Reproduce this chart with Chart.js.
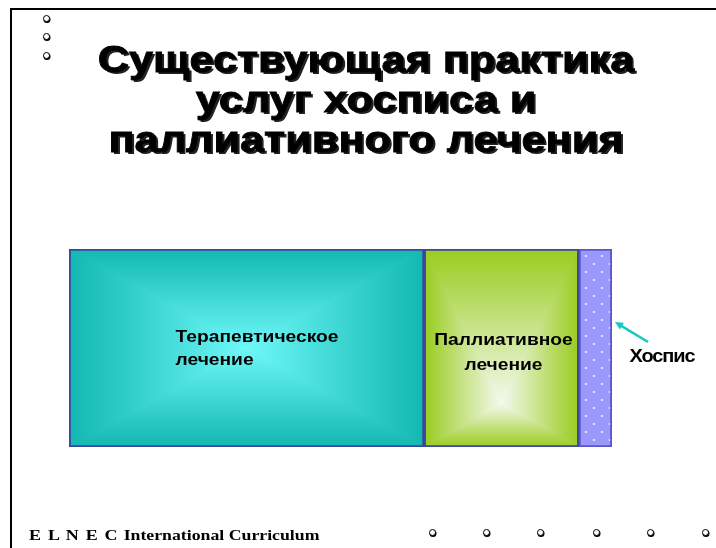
<!DOCTYPE html>
<html>
<head>
<meta charset="utf-8">
<script src="https://cdn.jsdelivr.net/npm/chart.js@4.4.1/dist/chart.umd.min.js"></script>
<style>
  html, body { margin: 0; padding: 0; background: #fff; }
  body { width: 716px; height: 548px; position: relative; overflow: hidden; font-family: "Liberation Sans", Arial, sans-serif; }
  #wrap { position: absolute; left: 0; top: 0; width: 716px; height: 548px; }
  .frame-top { position: absolute; left: 10px; top: 8px; width: 706px; height: 2px; background: #000; }
  .frame-left { position: absolute; left: 10px; top: 8px; width: 2px; height: 540px; background: #000; }
  .title { position: absolute; left: 16px; top: 40px; width: 700px; text-align: center;
    font: bold 36px "Liberation Sans", Arial, sans-serif; line-height: 40px; color: #000;
    transform: scaleX(1.2); transform-origin: 350px 0;
    -webkit-text-stroke: 0.8px #000; text-shadow: 2px 2px 0 #222; }
  .footer { position: absolute; left: 29px; top: 526px; font-family: "Liberation Serif", "Times New Roman", serif;
    font-weight: bold; color: #000; white-space: nowrap; transform: scaleX(1.2); transform-origin: 0 0; }
  .footer .big { font-size: 15px; letter-spacing: 1px; }
  .footer .small { font-size: 14.8px; }
  .bullet { position: absolute; width: 5px; height: 5px; border: 1.5px solid #000; border-radius: 50%;
    background: #fff; box-shadow: 0.5px 1px 0 #000; }
</style>
</head>
<body>
<div id="wrap"><canvas id="chart" width="716" height="548"></canvas></div>
<div class="frame-top"></div>
<div class="frame-left"></div>
<div class="title">Существующая практика<br>услуг хосписа и<br>паллиативного лечения</div>
<div class="footer"><span class="big">E L N E C</span> <span class="small">International Curriculum</span></div>
<div id="bullets"></div>
<script>
const categories = ['Практика'];
const segmentNames = ['Терапевтическое лечение', 'Паллиативное лечение', 'Хоспис'];
const segmentValues = [65.4, 28.5, 6.1];
const segmentLabelLines = [['Терапевтическое', 'лечение'], ['Паллиативное', 'лечение'], ['Хоспис']];

// slide decoration bullets
const bulletSpots = [[47, 19], [47, 37], [47, 56], [433, 533], [487, 533], [541, 533], [597, 533], [651, 533], [706, 533]];
const bulletBox = document.getElementById('bullets');
bulletSpots.forEach(([x, y]) => {
  const b = document.createElement('div');
  b.className = 'bullet';
  b.style.left = (x - 4) + 'px';
  b.style.top = (y - 4) + 'px';
  bulletBox.appendChild(b);
});

// "from center" gradient: four triangles with linear gradients
function rectGradient(ctx, x0, y0, x1, y1, cx, cy, edge, center) {
  const tris = [
    [[x0, y0], [x1, y0], [cx, y0]],
    [[x1, y0], [x1, y1], [x1, cy]],
    [[x1, y1], [x0, y1], [cx, y1]],
    [[x0, y1], [x0, y0], [x0, cy]]
  ];
  ctx.save();
  ctx.beginPath();
  ctx.rect(x0, y0, x1 - x0, y1 - y0);
  ctx.clip();
  tris.forEach(([a, b, e]) => {
    const g = ctx.createLinearGradient(e[0], e[1], cx, cy);
    g.addColorStop(0, edge);
    g.addColorStop(1, center);
    ctx.fillStyle = g;
    ctx.strokeStyle = g;
    ctx.lineWidth = 1.2;
    ctx.beginPath();
    ctx.moveTo(a[0], a[1]);
    ctx.lineTo(b[0], b[1]);
    ctx.lineTo(cx, cy);
    ctx.closePath();
    ctx.fill();
    ctx.stroke();
  });
  ctx.restore();
}

function stretchedText(ctx, text, x, y, sx) {
  ctx.save();
  ctx.translate(x, y);
  ctx.scale(sx, 1);
  ctx.fillText(text, 0, 0);
  ctx.restore();
}

const fillPlugin = {
  id: 'slideFills',
  beforeDatasetsDraw(chart) {
    const ctx = chart.ctx;
    ctx.save();
    chart.data.datasets.forEach((ds, i) => {
      const el = chart.getDatasetMeta(i).data[0];
      const x0 = Math.min(el.base, el.x), x1 = Math.max(el.base, el.x);
      const y0 = el.y - el.height / 2, y1 = el.y + el.height / 2;
      if (i === 0) {
        rectGradient(ctx, x0, y0, x1, y1, x0 + (x1 - x0) * 0.5, y0 + (y1 - y0) * 0.5, '#12b8b1', '#6ef8f8');
      } else if (i === 1) {
        rectGradient(ctx, x0, y0, x1, y1, x0 + (x1 - x0) * 0.5, y0 + (y1 - y0) * 0.78, '#99cc1e', '#f4f9ef');
      } else {
        ctx.fillStyle = '#9a98fb';
        ctx.fillRect(x0, y0, x1 - x0, y1 - y0);
        ctx.fillStyle = '#e6e6ff';
        let row = 0;
        for (let y = y0 + 7; y < y1 - 2; y += 8, row++) {
          for (let x = x0 + 7 + (row % 2) * 8; x < x1 - 1; x += 16) {
            ctx.fillRect(x - 1, y - 1, 2, 2);
          }
        }
      }
    });
    ctx.restore();
  },
  afterDatasetsDraw(chart) {
    const ctx = chart.ctx;
    ctx.save();
    ctx.fillStyle = '#000';
    ctx.font = 'bold 16px "Liberation Sans", Arial, sans-serif';
    ctx.textBaseline = 'middle';
    const m0 = chart.getDatasetMeta(0).data[0];
    const m1 = chart.getDatasetMeta(1).data[0];
    const m2 = chart.getDatasetMeta(2).data[0];
    // therapeutic
    const w0 = m0.x - m0.base;
    ctx.textAlign = 'left';
    stretchedText(ctx, segmentLabelLines[0][0], m0.base + w0 * 0.3, m0.y - 10, 1.2);
    stretchedText(ctx, segmentLabelLines[0][1], m0.base + w0 * 0.3, m0.y + 13, 1.2);
    // palliative
    ctx.textAlign = 'center';
    const c1 = (m1.x + m1.base) / 2 + 2;
    stretchedText(ctx, segmentLabelLines[1][0], c1, m1.y - 7, 1.2);
    stretchedText(ctx, segmentLabelLines[1][1], c1, m1.y + 18, 1.2);
    // hospice callout
    const ex = m2.x;
    ctx.font = 'bold 19px "Liberation Sans", Arial, sans-serif';
    ctx.letterSpacing = '-1px';
    stretchedText(ctx, segmentLabelLines[2][0], ex + 50, m2.y + 9, 1.05);
    ctx.letterSpacing = '0px';
    ctx.strokeStyle = '#16c8c4';
    ctx.fillStyle = '#16c8c4';
    ctx.lineWidth = 2.5;
    const tip = [ex + 3, m2.y - 26], tail = [ex + 36, m2.y - 6];
    const ang = Math.atan2(tip[1] - tail[1], tip[0] - tail[0]);
    ctx.beginPath();
    ctx.moveTo(tail[0], tail[1]);
    ctx.lineTo(tip[0] - 4 * Math.cos(ang), tip[1] - 4 * Math.sin(ang));
    ctx.stroke();
    ctx.beginPath();
    ctx.moveTo(tip[0], tip[1]);
    ctx.lineTo(tip[0] - 9 * Math.cos(ang - 0.45), tip[1] - 9 * Math.sin(ang - 0.45));
    ctx.lineTo(tip[0] - 9 * Math.cos(ang + 0.45), tip[1] - 9 * Math.sin(ang + 0.45));
    ctx.closePath();
    ctx.fill();
    ctx.restore();
  }
};

new Chart(document.getElementById('chart').getContext('2d'), {
  type: 'bar',
  data: {
    labels: categories,
    datasets: segmentValues.map((v, i) => ({
      label: segmentNames[i],
      data: [v],
      backgroundColor: 'rgba(0,0,0,0)',
      borderColor: i === 2 ? '#5a56c8' : '#3c46a0',
      borderWidth: 1.5,
      borderSkipped: false,
      barPercentage: 1,
      categoryPercentage: 1
    }))
  },
  options: {
    indexAxis: 'y',
    responsive: false,
    animation: false,
    layout: { padding: { left: 69, right: 104, top: 249, bottom: 101 } },
    plugins: { legend: { display: false }, tooltip: { enabled: false } },
    scales: {
      x: { stacked: true, min: 0, max: 100, display: false },
      y: { stacked: true, display: false }
    }
  },
  plugins: [fillPlugin]
});
</script>
</body>
</html>
